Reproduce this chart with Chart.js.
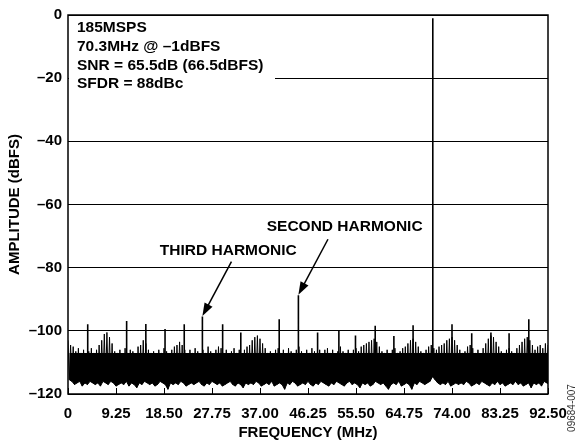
<!DOCTYPE html>
<html>
<head>
<meta charset="utf-8">
<script src="https://cdn.jsdelivr.net/npm/chart.js@4.4.1/dist/chart.umd.min.js"></script>
<style>
  html, body { margin: 0; padding: 0; background: #fff; }
  #wrap { width: 584px; height: 445px; position: relative; }
</style>
</head>
<body>
<div id="wrap"><canvas id="fft"></canvas></div>
<script>
// x ticks (MHz) and y ticks (dBFS)
const freqTicks = [0, 9.25, 18.5, 27.75, 37, 46.25, 55.5, 64.75, 74, 83.25, 92.5];
const freqLabels = ['0', '9.25', '18.50', '27.75', '37.00', '46.25', '55.50', '64.75', '74.00', '83.25', '92.50'];
const ampTicks = [0, -20, -40, -60, -80, -100, -120];
const ampLabels = ['0', '–20', '–40', '–60', '–80', '–100', '–120'];

// noise floor, read every 0.5 MHz from 0 to 92.5 MHz: top and bottom of the band
const binStep = 0.5;
const noiseHi = [
  -103, -104.5, -105, -106.5, -105.5, -107, -106, -107.5, -106.5, -105.5,
  -107, -106, -104.5, -103, -101, -100.5, -102, -104, -106.5, -107,
  -106, -107.5, -105.5, -107, -106, -106.5, -107.5, -105, -104.5, -103,
  -104, -106, -107, -106.5, -108, -106, -107, -105.5, -106.5, -107.5,
  -106, -105, -104.5, -103.5, -104.5, -106, -107.5, -106, -107, -105.5,
  -106.5, -107.5, -106, -107, -105, -106.5, -107.5, -106, -105, -105.5,
  -107, -106, -107.5, -106.5, -105.5, -107, -106, -107.5, -106, -105,
  -104.5, -103, -102, -101.5, -102.5, -104, -105.5, -107, -106.5, -107.5,
  -106, -105.5, -107, -106, -107.5, -105.5, -106.5, -107, -106, -105,
  -106.5, -107.5, -106, -107, -105.5, -106.5, -107, -106, -107.5, -106,
  -105.5, -107, -106, -107.5, -106.5, -105, -106.5, -107, -106, -107.5,
  -106, -105.5, -106.5, -105, -104.5, -104, -103.5, -103, -102.5, -103.5,
  -105, -106.5, -107, -106, -107.5, -106, -105.5, -107, -106.5, -105.5,
  -105, -104, -103, -102.5, -103.5, -105, -106.5, -107, -106, -105,
  -104.5, -105.5, -106, -105, -104.5, -104, -103, -102.5, -102, -103,
  -104.5, -106, -107, -106.5, -105, -104.5, -105.5, -107, -106, -107.5,
  -105.5, -104, -102.5, -101.5, -102, -103.5, -105, -106.5, -107, -106,
  -105.5, -106.5, -107, -105.5, -104.5, -103.5, -102.5, -102, -103, -104.5,
  -106, -105, -104.5, -105.5, -104, -104.5
];
const noiseLo = [
  -115.5, -116, -117, -116.5, -116, -117.5, -116.5, -117, -116, -116.5,
  -117, -116.5, -117.5, -116, -116.5, -117, -116, -116.5, -117.5, -117,
  -116.5, -117, -116, -117.5, -116.5, -117, -118, -116.5, -117, -116,
  -116.5, -117, -116.5, -117.5, -117, -116, -116.5, -117, -118.5, -116.5,
  -117, -116.5, -117, -116, -116.5, -117.5, -117, -116.5, -117, -116.5,
  -116, -117, -117.5, -116.5, -117, -116, -116.5, -117, -116.5, -117.5,
  -117, -116.5, -116, -117, -117.5, -116.5, -117, -118, -116.5, -117,
  -116.5, -117, -116, -116.5, -117.5, -117, -116.5, -117, -116, -117.5,
  -117, -116.5, -117, -118.5, -116.5, -117, -116, -116.5, -117.5, -117,
  -116.5, -117, -116, -117, -117.5, -116.5, -117, -116, -116.5, -117,
  -117.5, -116.5, -117, -116, -116.5, -117, -117.5, -116.5, -116, -117,
  -116.5, -117, -118, -116.5, -117, -116.5, -117.5, -117, -116, -116.5,
  -117, -116.5, -117.5, -118.5, -117, -116.5, -117, -116, -117.5, -117,
  -116.5, -117, -118.5, -116.5, -117, -116, -116.5, -117, -116.5, -116,
  -114.5, -115.5, -116.5, -117, -116.5, -117, -116, -117.5, -117, -116.5,
  -117, -116.5, -117, -116, -116.5, -117.5, -117, -116.5, -117, -116,
  -116.5, -117, -117.5, -116.5, -117, -116, -117, -116.5, -117.5, -117,
  -116.5, -117, -116, -117, -116.5, -117.5, -117, -116.5, -118, -116.5,
  -117, -116.5, -117.5, -116, -116.5, -117
];

// discrete tones: fundamental, harmonics and interleaving spurs
const spurFreq = [3.8, 11.3, 15.0, 18.7, 22.4, 25.9, 29.8, 33.3, 40.7, 44.4, 48.1,
  52.2, 55.4, 59.2, 62.8, 66.5, 70.3, 74.0, 77.8, 81.5, 85.0, 88.8];
const spurLevel = [-97.9, -96.9, -97.8, -99.4, -97.9, -95.5, -97.9, -100.5, -96.3, -88.7, -100.5,
  -99.7, -101.5, -98.4, -101.6, -98.2, -1, -97.9, -100.8, -100.5, -100.8, -96.3];

const infoLines = ['185MSPS', '70.3MHz @ –1dBFS', 'SNR = 65.5dB (66.5dBFS)', 'SFDR = 88dBc'];

// FFT trace: each bin swings from the top of the band to the bottom
const trace = [];
noiseHi.forEach((v, i) => {
  trace.push({ x: i * binStep, y: v }, { x: i * binStep + binStep / 2, y: noiseLo[i] });
});
const floorPts = noiseLo.map((v, i) => ({ x: i * binStep + binStep / 2, y: v }));
const spurPts = [];
spurFreq.forEach((f, i) => {
  spurPts.push({ x: f, y: -110 }, { x: f, y: spurLevel[i] }, { x: f, y: null });
});

const BOLD = '"Liberation Sans", Arial, Helvetica, sans-serif';

function arrow(ctx, x1, y1, x2, y2) {
  const a = Math.atan2(y2 - y1, x2 - x1);
  const len = 13, w = 4.5;
  ctx.beginPath();
  ctx.moveTo(x1, y1);
  ctx.lineTo(x2 - Math.cos(a) * len * 0.8, y2 - Math.sin(a) * len * 0.8);
  ctx.stroke();
  ctx.beginPath();
  ctx.moveTo(x2, y2);
  ctx.lineTo(x2 - Math.cos(a) * len - Math.sin(a) * w, y2 - Math.sin(a) * len + Math.cos(a) * w);
  ctx.lineTo(x2 - Math.cos(a) * len + Math.sin(a) * w, y2 - Math.sin(a) * len - Math.cos(a) * w);
  ctx.closePath();
  ctx.fill();
}

const extras = {
  id: 'extras',
  afterDatasetsDraw(chart) {
    const ctx = chart.ctx;
    const a = chart.chartArea;
    const xs = chart.scales.x, ys = chart.scales.y;
    ctx.save();
    ctx.fillStyle = '#000';
    ctx.strokeStyle = '#000';

    // info box (white behind text hides the -20 gridline)
    ctx.fillStyle = '#fff';
    ctx.fillRect(a.left + 1, a.top + 1, 206, 82);
    ctx.fillStyle = '#000';
    ctx.font = 'bold 15.5px ' + BOLD;
    ctx.textBaseline = 'middle';
    ctx.textAlign = 'left';
    infoLines.forEach((t, i) => ctx.fillText(t, a.left + 9, a.top + 13 + i * 18.7));

    // inward x tick marks
    ctx.lineWidth = 1;
    freqTicks.forEach(v => {
      const px = Math.round(xs.getPixelForValue(v)) + 0.5;
      ctx.beginPath();
      ctx.moveTo(px, a.bottom);
      ctx.lineTo(px, a.bottom - 6);
      ctx.stroke();
    });

    // plot frame
    ctx.lineWidth = 1.5;
    ctx.strokeRect(a.left, a.top, a.right - a.left, a.bottom - a.top);

    // harmonic callouts
    ctx.font = 'bold 15.5px ' + BOLD;
    ctx.fillText('THIRD HARMONIC', xs.getPixelForValue(17.7), ys.getPixelForValue(-74.7));
    ctx.fillText('SECOND HARMONIC', xs.getPixelForValue(38.3), ys.getPixelForValue(-67.1));
    ctx.lineWidth = 1.5;
    arrow(ctx, xs.getPixelForValue(31.5), ys.getPixelForValue(-78.1),
      xs.getPixelForValue(25.9), ys.getPixelForValue(-95.3));
    arrow(ctx, xs.getPixelForValue(50.1), ys.getPixelForValue(-71.0),
      xs.getPixelForValue(44.4), ys.getPixelForValue(-88.6));

    // figure number
    ctx.translate(572, 408);
    ctx.rotate(-Math.PI / 2);
    ctx.font = '10px ' + BOLD;
    ctx.fillStyle = '#333';
    ctx.textAlign = 'center';
    ctx.fillText('09684-007', 0, 0);
    ctx.restore();
  }
};

new Chart(document.getElementById('fft'), {
  type: 'line',
  data: {
    datasets: [{
      data: trace,
      borderColor: '#000',
      borderWidth: 1,
      pointRadius: 0,
      fill: false
    }, {
      // dense core of the noise band
      data: floorPts,
      borderColor: '#000',
      backgroundColor: '#000',
      borderWidth: 1,
      pointRadius: 0,
      fill: { value: -107 }
    }, {
      data: spurPts,
      borderColor: '#000',
      borderWidth: 1.6,
      pointRadius: 0,
      spanGaps: false,
      fill: false
    }]
  },
  options: {
    responsive: true,
    maintainAspectRatio: false,
    animation: false,
    layout: { padding: { top: 15, right: 36, left: 0, bottom: 0 } },
    plugins: { legend: { display: false }, tooltip: { enabled: false } },
    scales: {
      x: {
        type: 'linear',
        min: 0,
        max: 92.5,
        afterBuildTicks: s => { s.ticks = freqTicks.map(v => ({ value: v })); },
        afterFit: s => { s.height = 51; },
        grid: { display: false, drawTicks: false },
        border: { display: false },
        ticks: {
          color: '#000',
          padding: 11,
          maxRotation: 0,
          autoSkip: false,
          font: { family: BOLD, size: 15, weight: 'bold' },
          callback: (v, i) => freqLabels[i]
        },
        title: {
          display: true,
          text: 'FREQUENCY (MHz)',
          color: '#000',
          padding: { top: 0, bottom: 3 },
          font: { family: BOLD, size: 15, weight: 'bold' }
        }
      },
      y: {
        min: -120,
        max: 0,
        afterBuildTicks: s => { s.ticks = ampTicks.map(v => ({ value: v })); },
        afterFit: s => { s.width = 68; },
        grid: { color: '#000', lineWidth: 1, drawTicks: false },
        border: { display: false },
        ticks: {
          color: '#000',
          padding: 6,
          font: { family: BOLD, size: 15, weight: 'bold' },
          callback: (v, i) => ampLabels[i]
        },
        title: {
          display: true,
          text: 'AMPLITUDE (dBFS)',
          color: '#000',
          padding: { top: 6, bottom: 0 },
          font: { family: BOLD, size: 15, weight: 'bold' }
        }
      }
    }
  },
  plugins: [extras]
});
</script>
</body>
</html>
